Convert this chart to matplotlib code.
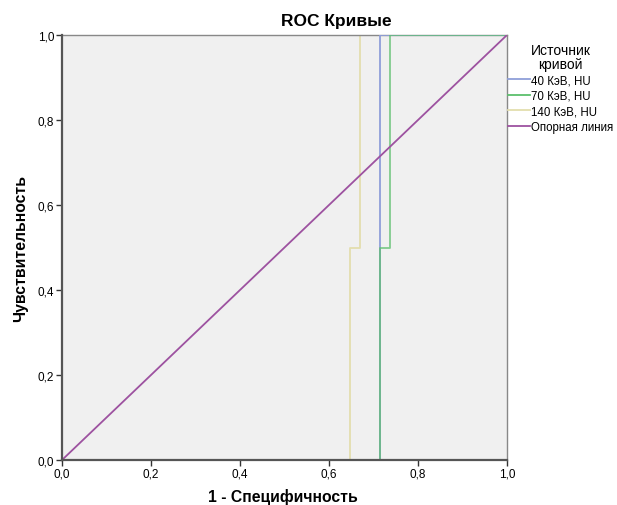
import matplotlib
matplotlib.use("Agg")
import matplotlib.pyplot as plt
from matplotlib.lines import Line2D

plt.rcParams['font.family'] = ['Liberation Sans', 'DejaVu Sans']

# ROC step curves (1 - specificity, sensitivity)
fpr_40 = [0.0, 0.714, 0.714, 1.0]
tpr_40 = [0.0, 0.0, 1.0, 1.0]
fpr_70 = [0.0, 0.714, 0.714, 0.738, 0.738, 1.0]
tpr_70 = [0.0, 0.0, 0.5, 0.5, 1.0, 1.0]
fpr_140 = [0.0, 0.648, 0.648, 0.670, 0.670, 1.0]
tpr_140 = [0.0, 0.0, 0.5, 0.5, 1.0, 1.0]
ref_x = [0.0, 1.0]
ref_y = [0.0, 1.0]

labels = ['40 КэВ, HU', '70 КэВ, HU', '140 КэВ, HU', 'Опорная линия']
colors = ['#8f9fd9', '#5cbf6c', '#e3deae', '#9d52a0']
ticks = [0.0, 0.2, 0.4, 0.6, 0.8, 1.0]
tick_labels = ['0,0', '0,2', '0,4', '0,6', '0,8', '1,0']

fig = plt.figure(figsize=(6.17, 5.06), dpi=100)
ax = fig.add_axes([62/617, 45/506, 445/617, 425/506])
ax.set_facecolor('#f0f0f0')

ax.plot(fpr_140, tpr_140, color=colors[2], lw=1.3, zorder=2)
ax.plot(fpr_40, tpr_40, color=colors[0], lw=1.3, zorder=3)
ax.plot(fpr_70, tpr_70, color=colors[1], lw=1.3, alpha=0.75, zorder=3)
ax.plot(ref_x, ref_y, color=colors[3], lw=1.3, zorder=4)

ax.set_xlim(0, 1)
ax.set_ylim(0, 1)
ax.set_xticks(ticks)
ax.set_yticks(ticks)
ax.set_xticklabels(tick_labels)
ax.set_yticklabels(tick_labels)
ax.tick_params(axis='both', direction='out', length=4, width=1.0, labelsize=8.5,
               color='#333333', pad=1.5)

for s in ['left', 'bottom']:
    ax.spines[s].set_color('#555555')
    ax.spines[s].set_linewidth(1.6)
    ax.spines[s].set_zorder(5)
for s in ['top', 'right']:
    ax.spines[s].set_color('#888888')
    ax.spines[s].set_linewidth(1.0)

ax.set_title('ROC Кривые', fontsize=12.5, fontweight='bold', x=0.616, y=1.0, pad=7)
ax.set_xlabel('1 - Специфичность', fontsize=11.3, fontweight='bold')
ax.set_ylabel('Чувствительность', fontsize=11.3, fontweight='bold')
ax.xaxis.set_label_coords(0.496, -0.066)
ax.yaxis.set_label_coords(-0.076, 0.5)

handles = [Line2D([0], [0], color=c, lw=1.3) for c in colors]
leg = ax.legend(handles, labels, loc='upper left', bbox_to_anchor=(1.0 - 2/445, 0.99),
                frameon=False, title='Источник\nкривой', fontsize=8.3,
                title_fontsize=10, handlelength=1.9, handletextpad=0.05,
                borderaxespad=0.0, labelspacing=0.3, borderpad=0.3)
leg._legend_box.align = 'center'
leg.get_title().set_multialignment('center')
leg.get_title().set_linespacing(1.0)

fig.savefig('out.png', dpi=100, facecolor='white')
